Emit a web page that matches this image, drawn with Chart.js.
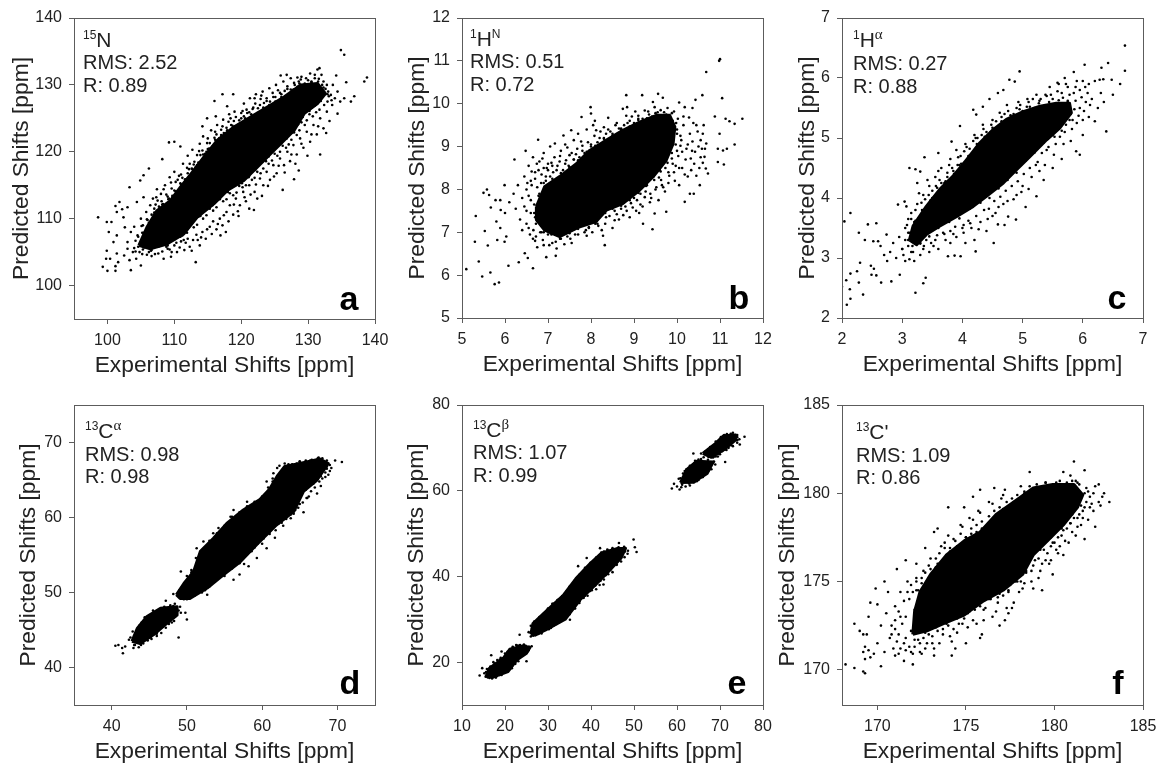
<!DOCTYPE html>
<html>
<head>
<meta charset="utf-8">
<script src="https://cdn.jsdelivr.net/npm/chart.js@4"></script>
<style>
  html, body { margin: 0; padding: 0; background: #fff; }
  #page { position: relative; width: 1157px; height: 763px; overflow: hidden; filter: blur(0.6px);
          font-family: "Liberation Sans", Arial, sans-serif; color: #222; }
  canvas { position: absolute; }
  .line { position: absolute; font-size: 20px; line-height: 20px; white-space: nowrap; }
  .nuc { font-size: 21px; }
  .nuc sup { font-size: 12px; line-height: 0; vertical-align: 8px; }
  .nuc sup.gr { font-family: "Liberation Serif", serif; font-size: 15px; }
  .letter { position: absolute; font-size: 34px; line-height: 34px; font-weight: bold; color: #000; transform: translateX(-50%); }
</style>
</head>
<body>
<div id="page"></div>
<script>
// axis ticks
const ticksA = [100, 110, 120, 130, 140];
const ticksB = [5, 6, 7, 8, 9, 10, 11, 12];
const ticksC = [2, 3, 4, 5, 6, 7];
const ticksD = [40, 50, 60, 70];
const ticksEx = [10, 20, 30, 40, 50, 60, 70, 80];
const ticksEy = [20, 40, 60, 80];
const ticksF = [170, 175, 180, 185];

// outline of the part of each cloud where the dots merge into solid black
const coreA = [[104.7,106],[105.9,108.7],[107.4,111.2],[109.4,112.7],[110.9,114.7],[112.9,117.2],[114.4,119.2],[116.4,121.7],[118.9,123.7],[121.4,125.2],[123.9,126.7],[126.4,128.2],[128.9,130],[131.4,130.2],[132.6,128.7],[131.4,127.2],[129.4,125.7],[127.9,123.2],[126.4,121.7],[124.4,119.7],[122.4,117.7],[120.4,115.7],[117.9,114.2],[115.9,112.2],[113.4,110.2],[111.4,107.7],[108.9,106.2],[106.4,105.5]];
const coreB = [[6.73,7.6],[6.92,8.06],[7.27,8.3],[7.66,8.6],[7.97,8.91],[8.36,9.15],[8.74,9.38],[9.13,9.57],[9.52,9.73],[9.83,9.73],[9.95,9.46],[9.91,9.07],[9.75,8.68],[9.44,8.29],[9.13,7.98],[8.74,7.67],[8.36,7.52],[8.12,7.25],[7.74,7.13],[7.27,6.9],[6.92,7.05],[6.73,7.29]];
const coreC = [[3.12,3.3],[3.18,3.53],[3.4,3.86],[3.62,4.14],[3.84,4.36],[4.07,4.64],[4.29,4.92],[4.51,5.14],[4.73,5.31],[5.01,5.44],[5.29,5.53],[5.56,5.58],[5.78,5.58],[5.81,5.42],[5.62,5.17],[5.4,4.97],[5.12,4.69],[4.9,4.47],[4.68,4.25],[4.4,4.03],[4.18,3.86],[3.9,3.69],[3.62,3.53],[3.4,3.39],[3.24,3.22]];
const coreD1 = [[42.7,43.5],[43.4,45.2],[44.7,46.8],[46.5,47.9],[48.7,48.1],[48.7,47],[47.1,45.7],[45.6,44.4],[43.8,43.2]];
const coreD2 = [[48.6,49.7],[49.6,51.2],[50.9,52.8],[51.8,55.5],[53.5,57.2],[55.3,59.2],[57.5,61],[59.7,62.4],[61,63.8],[62,65.5],[63,66.8],[65,67.2],[67.7,67.8],[68.8,67.2],[67.3,65],[65.5,63.5],[64.2,60.8],[61.9,59],[59.3,56.4],[57.1,54.1],[54.9,52.4],[52.7,50.6],[50.4,49.2],[49.1,49.2]];
const coreE1 = [[15.6,16.7],[16.4,18.6],[19.6,20.9],[21.1,23],[24.2,23.8],[25.8,23.4],[25,22.1],[22.7,20.5],[20.7,17.8],[17.2,16.5]];
const coreE2 = [[26,26.5],[26.5,29],[29.7,32],[33.5,35.5],[36.5,39.5],[39.8,43],[42.5,45.5],[46,46.5],[48,46.5],[47,44.3],[44.4,41.5],[41.3,38.3],[37.4,34.5],[34,30],[30,27.8],[27,26.3]];
const coreE3 = [[60.8,61.9],[62.3,65],[64.6,66.9],[68.4,66.7],[67,64],[63.8,62]];
const coreE4 = [[66,68.7],[68.9,71],[70.8,72.8],[73.6,73],[73.6,71.8],[70.8,69.5],[68,67.8]];
const coreF = [[172,172],[172.1,173.3],[172.4,174.4],[173,175.4],[173.9,176.5],[174.9,177.3],[175.8,177.8],[176.7,178.8],[177.7,179.5],[178.8,180.3],[179.9,180.5],[181.1,180.5],[181.6,179.9],[181.3,179.2],[180.5,178.2],[179.6,177.3],[178.8,176.5],[178.2,175.4],[177.1,174.5],[176,173.9],[174.9,173.1],[173.7,172.6],[172.8,172.2]];

// single dots read around the clouds
const dotsA = [[98.6,110.2],[99.9,109.5],[100.6,109.5],[100.2,108],[99.9,105.2],[99.8,104],[100.4,104],[99.3,102.8],[100,102.2],[101.2,102.2],[101.2,102.9],[101.6,103.5],[101.4,104.8],[103.5,102.3],[105,103],[113.2,103.5],[101.8,112.5],[101.2,111.9],[102.2,111.4],[101.4,111],[103,111.7],[102.4,110.2],[103.3,114.7],[101.4,107.5],[100.9,106.5],[102.6,108.7],[104.4,112.5],[105.4,113.2],[104.9,115.7],[106.2,117.5],[105.4,116.5],[109.2,121.4],[110,121.5],[110.9,120.8],[108.2,118.9],[114.2,123.8],[114.9,125],[116,127.6],[117.2,128.6],[118.8,128.6],[116.2,125.3],[117.9,126.8],[125.9,131.4],[126.8,131.5],[128.4,131.1],[131.7,132.5],[134.9,135.2],[135.4,134.5],[138.4,130.5],[138.8,131.1],[136.9,128.3],[136.4,127.5],[135.7,130.4],[134.2,131.4],[135.4,128],[134.4,125.7],[132.7,122.8],[131.8,119.6],[127.9,115.9],[128.6,117.2],[126.2,114.3],[121.9,111.3],[121.2,111.5],[119.5,111.1],[117.7,108],[116.9,107.5],
[103,106.5],[103.5,108],[104,108.8],[104.5,107.5],[105,110],[105.3,109],[105.8,111],[106,109.8],[106.4,112],[106.8,113],[107,111.5],[107.4,114.4],[107.5,112.7],[108,113.7],[108.3,112.2],[108.6,115],[109,113.3],[109.3,116.2],[109.6,114.5],[110,117],[110.2,115.5],[110.6,114],[111,116.6],[111.3,118.2],[111.7,115.2],[112,119.4],[112.2,117.4],[112.7,120.3],[113,118.5],[113.4,119.5],[113.8,121.2],[114,118],[114.3,122.3],[114.8,120],[115,122],[115.5,123.2],[116,121],[116.4,124],[117,122.5],[117.3,124.8],[117.7,121.6],[118.2,125.6],[118.6,123.4],[119,126],[119.5,124],[120,125],[120.4,127.2],[120.9,125.8],[121.3,128],[121.8,126.6],[122.2,128.6],[122.8,127],[123.2,129],[123.8,127.6],[124.2,129.5],[124.8,128.2],[125.2,130],[125.8,128.8],[126.3,130.5],[126.9,129.4],[127.4,131],[128,130],[128.6,130.5],[129,131.2],[129.7,131],[130.3,131.7],[131,131],[131.4,132.3],[132,131.5],[132.3,130.5],[132.8,130],[133,129],[133.4,128.5],[133.7,130],[134,128],[134.4,129],[134.8,127.5],
[102.5,104.5],[103,105.5],[103.3,103.8],[103.8,105],[104.3,104],[104.6,105.8],[105.2,104.7],[105.6,106],[106.2,105],[106.6,104.4],[107,105.8],[107.6,104.8],[108,106],[108.4,104],[109,105.5],[109.5,104.3],[110,106],[110.4,105],[111,106.6],[111.5,105.3],[112,107],[112.3,105.8],[112.8,106.8],[113.3,107.6],[113.8,106],[114.2,108],[114.7,107],[115.3,108.8],[115.8,109.6],[116.3,108.4],[116.8,110],[117.2,109],[117.8,111],[118.3,112],[118.8,110.6],[119.2,113],[119.8,112],[120.3,114],[120.7,112.6],[121.2,115],[122,114],[122.4,113],[122.8,116],[123.3,115],[123.8,117],[124.3,115.8],[124.8,118],[125.3,116.8],[125.8,119],[126.4,118],[126.9,120],[127.3,118.6],[127.8,121],[128.3,119.6],[128.8,122],[129.3,120.6],[129.8,123],[130.3,121.5],[130.8,124],[131.3,122.6],[131.8,125],[132.3,123.5],[132.8,126],[133.2,124.6],[133.6,127]];
const edgeA = [[104.2,106.7],[104.6,107.3],[104,105.6],[105.1,108.9],[105.4,107.9],[105.9,109.9],[106.3,109.2],[106.6,110.6],[107,110.2],[107.2,112.1],[107.7,111.8],[108.1,112.6],[108.5,111.9],[108.8,113.6],[109.1,112.9],[109.7,113.4],[110,114.2],[110.3,113.3],[110.5,115.8],[110.9,115.3],[111.2,116.1],[111.6,115.9],[112,116.8],[112.3,118.2],[112.6,117.5],[112.9,118.1],[113.2,117.7],[113.6,118.4],[113.9,119.5],[114.2,120.2],[114.6,119.7],[115,120.4],[115.3,121.3],[115.7,120.8],[116,122.1],[116.3,122.6],[116.7,122],[117,123.3],[117.4,122.8],[117.8,123.6],[118.1,124.5],[118.5,124],[118.9,124.6],[119.2,125.2],[119.7,124.7],[120,125.8],[120.4,125.3],[120.8,126.3],[121.2,125.9],[121.7,126.4],[122.1,127.2],[122.5,126.5],[122.9,127.9],[123.4,127.3],[123.8,128],[124.3,127.5],[124.7,128.8],[125.1,128.2],[125.5,129.2],[126,128.6],[126.5,129.1],[126.9,129.8],[127.4,129.3],[127.9,130.3],[128.4,129.7],[128.9,130.8],[129.5,130.2],[130,130.7],[130.5,130.4],[131,131.5],[131.6,130.9],[132.1,130],[132.6,129.4],[133.1,128.3],[133.5,127.7],[132.9,127.5],[132.4,127],
[131.7,126.3],[131.2,125.9],[130.7,125.3],[130.2,125.6],[129.8,124.7],[129.5,124],[129,124.4],[128.7,123.2],[128.3,122.5],[127.9,122.9],[127.5,121.8],[127.1,121.1],[126.7,120.6],[126.2,120.9],[125.8,120],[125.4,119.4],[125,119.7],[124.6,118.7],[124.1,118.2],[123.7,118.6],[123.3,117.5],[122.9,116.8],[122.4,117],[122,116.1],[121.6,115.8],[121.1,116.2],[120.7,115],[120.2,114.7],[119.7,114.9],[119.3,113.9],[118.8,113.5],[118.3,113.8],[117.8,112.9],[117.3,112.6],[116.8,112.9],[116.3,111.7],[115.8,111.2],[115.3,111.5],[114.8,110.5],[114.3,110],[113.9,110.4],[113.4,109.1],[112.9,108.7],[112.4,109.2],[111.9,107.9],[111.4,106.8],[110.9,107.3],[110.3,106.4],[109.8,106.9],[109.3,105.4],[108.8,105.8],[108.2,105.1],[107.7,105.9],[107.1,104.7],[106.5,105.2],[105.9,104.6],[105.3,105.4],[104.8,105],[104.2,105.1]];
const rimA = [[105.2,107.9],[106.2,109.4],[107,110.9],[108.2,112.1],[109.2,113],[110.2,114.1],[111,115.1],[111.8,115.9],[112.7,117.4],[113.4,118],[114.3,119.6],[115.2,120.5],[116.1,121.8],[117,122.1],[117.9,123.2],[118.7,123.9],[119.8,124.2],[120.6,125],[121.5,125.6],[122.4,125.8],[123.3,126.6],[124.2,127],[125.1,127.5],[126,128.2],[126.9,128.4],[127.8,129.3],[128.7,130.2],[129.6,130.1],[130.5,130.5],[131.5,130.5],[132.3,129.6],[132.9,128.6],[131.9,127.6],[131,126.9],[130.2,126.1],[129.2,125.2],[128.5,124.1],[127.6,122.9],[126.8,122],[126,121.3],[125,120.4],[124.1,119.3],[123.2,118.6],[122.1,117.3],[121.2,116.4],[120.1,115.3],[119.1,115],[118,114],[116.9,113.2],[115.7,112],[114.7,111.3],[113.6,110.3],[112.5,109.3],[111.2,107.5],[110,106.9],[109,106],[107.8,105.9],[106.6,105.3],[105.5,105.7]];
const moreA = [[106.7,109.8],[107.3,113.2],[107.9,110.9],[108.4,114.4],[108.9,111.6],[109.5,115.4],[109.9,112.8],[110.7,116.4],[111.4,114.3],[111.9,117.6],[112.4,115.4],[113.1,116.4],[113.7,120.1],[114.1,117.3],[114.9,121.3],[115.4,119.2],[116.1,123],[116.6,120.2],[117.2,123.8],[118,122.7],[118.4,125],[119.3,123],[120.2,126.1],[121,124.7],[122,128],[123,128.4],[124,126.6],[107.4,106.6],[108.6,107],[109.6,105],[110.8,105.7],[111.7,106.4],[112.6,105.2],[113.5,106.8],[114,107.2],[114.9,108.4],[115.6,107.7],[116.5,109.2],[117.4,110.5],[118.1,109.6],[118.9,112.1],[119.6,110.4],[120.5,113.2],[121.4,113.6],[122.2,115.1],[123.1,113.4],[124,114.9],[124.9,116.3],[125.6,117.9],[126.5,116.9],[127.5,119.6],[128.1,118.2],[129,121.2],[129.9,119.4],[130.5,122.6],[131.5,123.8]];

const dotsB = [[5.1,6.14],[5.39,6.32],[5.47,5.97],[5.66,6.06],[5.76,5.79],[5.86,5.83],[5.3,6.78],[5.32,7.38],[5.53,7.03],[5.6,6.69],[5.5,7.92],[5.58,8],[5.63,7.87],[5.67,7.58],[5.78,7.75],[5.89,7.75],[5.99,8.1],[5.9,7.52],[6,7.45],[5.8,7.25],[5.89,7.1],[5.82,6.82],[5.99,6.78],[6.03,6.9],[6.08,6.22],[6.32,6.3],[6.65,6.16],[6.46,6.51],[6.53,6.4],[6.96,6.42],[7.18,6.45],[6.22,8.7],[6.48,8.9],[6.77,9.16],[7.16,9.07],[7.36,9.26],[7.54,9.38],[7.78,9.69],[7.99,9.92],[8,9.77],[8.09,9.6],[8.4,9.67],[8.82,10.2],[9.19,10.2],[8.84,9.92],[8.74,9.88],[9.25,9.84],[9.44,10.04],[9.56,10.23],[9.67,10.14],[10.68,10.74],[10.98,11],[11,11.04],[11.05,10.13],[10.59,10.2],[10.05,10.03],[10.18,9.92],[10.43,10.09],[10.36,9.9],[10.88,9.7],[11.13,9.65],[11.22,9.59],[11.34,9.53],[11.52,9.65],[10.99,9.3],[11.34,9.05],[10.95,8.95],[11.16,8.95],[11.07,8.91],[10.95,8.64],[11.09,8.58],[10.68,9.07],[10.64,8.76],[10.72,8.37],[10.67,8.49],[10.53,8.1],[10.39,7.9],[10.3,7.9],[10.18,7.71],[9.75,7.48],[9.48,7.44],[9.21,7.2],[9.43,7.07],[8.32,6.7],
[6.1,7.7],[6.2,7.9],[6.25,7.55],[6.3,8.1],[6.35,7.3],[6.4,7.8],[6.45,8.3],[6.5,8],[6.5,7.5],[6.55,8.55],[6.55,7.1],[6.6,7.75],[6.6,8.2],[6.65,6.85],[6.65,8.75],[6.7,7.35],[6.7,8.4],[6.75,6.65],[6.75,8.05],[6.8,8.65],[6.85,7],[6.85,8.35],[6.9,8.85],[6.9,6.7],[6.95,8.2],[7,8.6],[7,6.95],[7.05,9],[7.05,8.3],[7.1,6.75],[7.15,8.75],[7.2,8.45],[7.3,8.9],[7.3,6.85],[7.4,8.6],[7.4,9.05],[7.45,6.9],[7.5,8.8],[7.55,6.75],[7.6,9.15],[7.6,8.7],[7.7,9.3],[7.7,6.95],[7.8,8.9],[7.85,7],[7.9,9.4],[7.95,7.1],[8,9.05],[8.05,9.5],[8.1,7.2],[8.2,9.2],[8.25,7.05],[8.3,9.45],[8.35,7.35],[8.45,9.35],[8.5,7.1],[8.55,7.5],[8.6,9.55],[8.65,7.3],[8.7,9.4],[8.8,7.6],[8.85,9.55],[8.9,7.35],[8.95,9.7],[9,7.8],[9.05,7.5],[9.1,9.65],[9.15,7.9],[9.2,7.6],[9.3,8.1],[9.35,9.75],[9.4,7.8],[9.45,8.3],[9.5,8],[9.55,9.8],[9.6,8.45],[9.65,8.1],[9.7,8.7],[9.75,9.75],[9.8,8.4],[9.85,9],[9.9,8.6],[9.9,9.6],[9.95,8.2],[10,8.9],[10,9.4],[10.05,8.5],[10.1,9.15],[10.15,9.7],[10.2,8.7],[10.25,8.3],[10.3,9.3],[10.35,8.9],[10.4,8.6],[10.45,9.5],[10.5,9],[10.55,8.75],[10.6,9.3],[10.65,8.95]];
const edgeB = [[6.5,7.2],[6.55,7.85],[6.6,7.45],[6.62,8.1],[6.66,7.05],[6.68,7.65],[6.7,8.25],[6.72,6.9],[6.78,8.45],[6.8,7.9],[6.84,8.15],[6.88,6.82],[6.9,8.5],[6.95,8.3],[7,8.45],[7.03,6.7],[7.08,8.62],[7.12,8.4],[7.18,6.78],[7.22,8.55],[7.28,8.78],[7.35,8.45],[7.38,6.72],[7.42,8.68],[7.48,8.55],[7.55,8.85],[7.6,8.7],[7.63,6.95],[7.68,8.95],[7.73,8.75],[7.8,9.02],[7.85,8.85],[7.88,7.05],[7.93,9.1],[8,9],[8.03,7],[8.08,9.25],[8.15,9.1],[8.17,7.15],[8.22,9.35],[8.3,9.2],[8.33,7.2],[8.4,9.4],[8.43,7.38],[8.5,9.3],[8.57,9.5],[8.6,7.42],[8.65,9.42],[8.7,7.55],[8.77,9.5],[8.83,7.5],[8.9,9.6],[8.93,7.68],[9,9.55],[9.07,7.75],[9.1,9.72],[9.15,7.65],[9.2,9.65],[9.27,7.95],[9.33,9.82],[9.38,7.9],[9.42,9.7],[9.52,8.05],[9.58,8.28],[9.62,9.85],[9.68,8.05],[9.73,8.5],[9.78,9.9],[9.82,8.32],[9.88,8.72],[9.93,9.82],[9.97,8.55],[10.02,9.65],[10.03,8.78],[10.08,9.25],[10.08,9.02],[10.12,8.5],[10.15,9.5],[10.22,8.95],[10.28,9.68],[10.32,8.72],[10.36,9.12],[10.42,8.88],[10.48,9.35],[10.52,8.5],[10.58,8.95],[10.62,9.5]];
const rimB = [[6.68,7.45],[6.78,7.85],[6.9,8.15],[7.1,8.25],[7.3,8.38],[7.5,8.52],[7.7,8.68],[7.9,8.88],[8.1,9.02],[8.3,9.18],[8.5,9.26],[8.7,9.42],[8.9,9.47],[9.1,9.62],[9.3,9.66],[9.5,9.78],[9.7,9.8],[9.88,9.78],[9.98,9.55],[10,9.3],[9.97,9.05],[9.88,8.85],[9.78,8.62],[9.62,8.42],[9.47,8.22],[9.28,8.08],[9.1,7.92],[8.9,7.75],[8.7,7.62],[8.5,7.55],[8.33,7.45],[8.15,7.2],[7.95,7.12],[7.7,7.08],[7.5,6.98],[7.28,6.85],[7.08,6.95],[6.9,7],[6.72,7.2]];
const moreB = [[6.4,7.05],[6.45,7.6],[6.52,8.15],[6.58,6.95],[6.62,8.42],[6.7,6.8],[6.74,8.6],[6.82,7],[6.87,8.72],[6.97,8.5],[7.1,8.55],[7.2,6.62],[7.27,8.65],[7.45,8.98],[7.52,6.85],[7.65,8.82],[7.77,9.12],[7.9,6.92],[8.12,9.38],[8.28,6.92],[8.35,9.3],[8.55,7.28],[8.62,9.3],[8.75,7.4],[8.82,9.72],[8.97,7.58],[9.03,9.82],[9.12,7.45],[9.25,7.82],[9.37,7.7],[9.48,9.92],[9.57,7.75],[9.63,8.22],[9.72,7.95],[9.8,8.15],[9.93,8.4],[10.05,8.1],[10.12,8.88],[10.18,8.35],[10.25,9.05],[10.33,8.45],[10.38,9.55],[10.45,8.32],[10.55,9.15],[10.6,8.62]];

const dotsC = [[6.7,6.54],[6.7,6.12],[6.62,5.9],[6.42,6.25],[6.31,6.17],[6.03,6.22],[6.48,5.97],[6.28,5.97],[6.34,5.98],[6.39,5.11],[6.2,5.28],[5.95,4.72],[5.89,4.78],[4.95,6.11],[4.78,5.97],[4.87,5.94],[4.45,5.65],[4.68,5.8],[4.59,5.75],[4.18,5.47],[4.34,5.52],[4.23,5.39],[3.96,5.2],[3.82,4.94],[3.37,4.68],[3.12,4.5],[3.22,4.48],[3.3,4.44],[3.6,4.75],[3.25,4.25],[3.04,3.94],[2.93,3.89],[3.07,3.86],[2.14,3.75],[2.04,3.61],[2.28,3.42],[2.43,3.56],[2.57,3.58],[2.38,3.3],[2.52,3.28],[2.6,3.28],[2.64,3.2],[2.74,3.39],[2,2.52],[2.07,2.63],[2.13,2.48],[2.08,2.22],[2.14,2.32],[2.14,2.74],[2.25,2.78],[2.28,2.59],[2.35,2.39],[2.3,2.92],[2.48,2.87],[2.49,2.72],[2.57,2.71],[2.53,2.82],[2.65,2.59],[2.82,2.61],[2.96,2.72],[3.22,2.42],[3.35,2.58],[3.39,2.67],[3.76,3.03],[3.87,3.04],[3.97,3.03],[4.22,3.11],[4.52,3.25],[4.76,3.69],[4.89,3.64],[4.59,3.56],[5.23,4.03],
[2.7,3.05],[2.75,2.95],[2.8,3.1],[2.85,3.25],[2.9,3],[2.95,3.35],[3,3.15],[3.05,3.5],[3.05,2.95],[3.1,3.3],[3.1,3.65],[3.15,3.1],[3.15,3.75],[3.2,3.45],[3.2,2.95],[3.25,3.9],[3.3,3.25],[3.3,3.05],[3.35,4.05],[3.4,3.3],[3.4,3.85],[3.45,4.2],[3.45,3.1],[3.5,4],[3.55,4.35],[3.55,3.3],[3.6,3.15],[3.65,4.25],[3.65,4.5],[3.7,3.4],[3.75,4.35],[3.8,4.65],[3.8,3.25],[3.85,4.45],[3.9,3.35],[3.9,4.8],[3.95,4.55],[4,3.5],[4.05,4.9],[4.05,3.25],[4.1,4.7],[4.15,3.5],[4.2,5.05],[4.2,3.3],[4.3,4.9],[4.3,3.6],[4.35,5.15],[4.4,3.45],[4.45,5],[4.5,3.7],[4.5,5.3],[4.6,3.85],[4.6,5.2],[4.7,3.55],[4.7,5.4],[4.75,3.95],[4.8,5.3],[4.9,4.05],[4.9,5.5],[5,4.2],[5,5.45],[5.05,3.85],[5.1,5.6],[5.15,4.35],[5.2,5.5],[5.25,4.6],[5.3,5.65],[5.35,4.3],[5.4,4.8],[5.4,5.7],[5.5,4.5],[5.5,5.65],[5.55,4.9],[5.6,5.9],[5.65,4.65],[5.65,5.75],[5.7,5.1],[5.7,6],[5.75,5.6],[5.75,5.85],[5.8,4.95],[5.8,5.4],[5.85,6.1],[5.85,5.75],[5.9,5.25],[5.9,5.95],[5.95,5.5],[5.95,5.8],[6,5.05],[6,5.95],[6.05,5.6],[6.1,5.35],[6.1,5.9],[6.15,5.65],[6.2,5.95],[6.25,5.5],[6.3,5.75],[6.35,5.6],[6.5,5.72]];
const edgeC = [[3,3.15],[3.05,3.3],[3.08,3.55],[3.1,3.2],[3.12,3.42],[3.15,3.65],[3.18,3.1],[3.22,3.8],[3.27,3.66],[3.32,3.92],[3.36,3.2],[3.38,3.98],[3.44,4.05],[3.48,3.25],[3.5,4.12],[3.56,4.2],[3.58,3.38],[3.62,4.3],[3.68,3.42],[3.7,4.25],[3.75,4.42],[3.8,3.45],[3.83,4.5],[3.88,3.52],[3.92,4.55],[3.97,4.7],[4.02,3.55],[4.03,4.78],[4.1,3.62],[4.12,4.82],[4.18,4.95],[4.23,3.7],[4.25,5],[4.32,5.05],[4.36,3.8],[4.4,5.1],[4.44,3.82],[4.48,5.22],[4.53,3.95],[4.56,5.28],[4.63,4.02],[4.65,5.35],[4.72,4.12],[4.76,5.45],[4.82,4.2],[4.85,5.4],[4.92,4.28],[4.96,5.55],[5.02,4.4],[5.07,5.52],[5.12,4.5],[5.17,5.65],[5.22,4.55],[5.28,5.62],[5.32,4.75],[5.38,5.72],[5.43,4.85],[5.47,5.72],[5.53,5.02],[5.58,5.78],[5.62,5.02],[5.67,5.67],[5.72,5.22],[5.78,5.72],[5.83,5.3],[5.88,5.62],[5.93,5.37],[5.98,5.68],[6.02,5.45],[6.08,5.75],[6.12,5.55]];
const rimC = [[3.1,3.42],[3.22,3.62],[3.33,3.8],[3.47,3.96],[3.58,4.17],[3.72,4.28],[3.86,4.4],[3.98,4.57],[4.11,4.7],[4.24,4.9],[4.37,5.02],[4.5,5.17],[4.65,5.28],[4.8,5.38],[4.95,5.48],[5.12,5.52],[5.27,5.58],[5.44,5.6],[5.6,5.63],[5.75,5.62],[5.86,5.48],[5.78,5.3],[5.65,5.12],[5.5,5.05],[5.35,4.92],[5.2,4.76],[5.05,4.62],[4.9,4.42],[4.75,4.3],[4.6,4.16],[4.45,4],[4.3,3.92],[4.12,3.82],[3.95,3.66],[3.78,3.6],[3.6,3.5],[3.45,3.36],[3.3,3.24],[3.17,3.2]];
const moreC = [[3.02,3.05],[3.12,2.98],[3.2,3.6],[3.28,4.08],[3.35,3.15],[3.42,4.3],[3.52,3.2],[3.6,4.45],[3.72,3.3],[3.78,4.55],[3.85,3.4],[3.93,4.68],[4.02,3.42],[4.07,4.85],[4.13,3.58],[4.22,5],[4.27,3.48],[4.34,5.22],[4.42,3.65],[4.47,5.1],[4.55,3.75],[4.62,5.42],[4.68,3.9],[4.74,5.55],[4.85,3.98],[4.93,5.6],[4.98,4.1],[5.08,5.65],[5.1,4.15],[5.23,5.72],[5.28,4.45],[5.37,4.55],[5.45,5.85],[5.52,4.72],[5.58,5.92],[5.68,4.9],[5.72,5.9],[5.82,5.15],[5.88,5.85],[6,5.3],[6.04,5.85]];

const dotsD = [[40.5,42.9],[40.9,43],[41.5,41.9],[41.4,42.6],[41.8,42.8],[42.3,43.7],[42.9,42.6],[48.9,44],[50,46.4],[49.8,47.3],[49.2,47.3],[47.2,48.9],[49.1,48.1],[49.2,52.8],[48.2,49.8],[52.7,49.7],[56.2,51.7],[57,52.4],[58.2,53.5],[59.3,54.6],[60.6,55.9],[61.7,57.3],[65.5,60.7],[70.6,67.4],[69.7,67.6],[68.8,65.7],[67.3,63.2],[65.9,62.6],[52.2,56.8],[53.5,57.9],[54.2,58.6],[51.3,55.9],[55.8,60.1],[56.2,61],[58,62.1],[60.6,64.8],[61.5,65.9],[62.3,66.9],[63.5,67.1],[64.6,67.2],
[43,43],[43.6,42.7],[43.2,44.6],[43.8,45.3],[44.2,43.2],[44.5,46],[44.8,43.6],[45,46.6],[45.3,43.8],[45.6,47.4],[46,44.5],[46.2,47.6],[46.6,44.6],[47,47.8],[47.2,45.3],[47.6,45.8],[48,47.9],[48.3,46.2],[48.6,47.4],[49,49.5],[49.6,49.1],[50.2,52],[50.5,49.4],[50.8,52.8],[51,49.6],[51.5,50.1],[51.5,54.2],[52,50],[52,55],[52.5,50.5],[52.8,55.6],[53.2,51],[53.5,56.4],[54,51.8],[54.2,57],[54.8,52.3],[55,57.6],[55.5,53],[55.6,58.8],[56.2,53.5],[56.6,59.8],[57,54.4],[57.3,60.3],[57.8,54.9],[58,61],[58.6,55.5],[58.8,61],[59.4,56.5],[59.6,61.5],[60.2,57.2],[60.4,62.3],[61,57.8],[61.2,62.8],[61.8,58.3],[62,63.4],[62.6,59.3],[62.5,64.3],[63.2,59.8],[63,65.5],[63.8,60.4],[63.5,66],[64.2,60.5],[64,66.5],[64.8,61.3],[65,67.5],[65.4,62],[65.8,67.6],[66,62.6],[66.6,67.7],[66.5,63.5],[67,64],[67.4,67.9],[67.6,64.8],[68,65.2],[68,67.9],[68.4,66],[68.6,66.8],[69,66.2],[69,67]];
const edgeD = [[42.5,44],[42.8,44.8],[43.1,43],[44,46],[44.3,43.6],[45.2,47],[46,44.2],[47.8,48.3],[48,46],[48.4,48.5],[49.4,50.8],[50,52.2],[50.6,53],[51.2,54.6],[52.4,50.3],[53,56],[54,52],[54.6,57.8],[56,53.2],[56.8,60.2],[57.6,53.8],[59,61.9],[60,56.5],[60.8,63],[61.4,64.8],[62.8,58.9],[63.8,59.9],[65,61.8],[66.2,62.8],[67.8,64.2],[68.4,65.4],[69.2,66.6]];
const rimD = [[43,44.2],[43.7,45.6],[44.4,46.7],[45.5,47.6],[47,48.1],[48.2,48.2],[48.9,47.6],[48,46.5],[46.7,45.4],[45.2,44],[43.9,43],[49,50.3],[49.8,51.3],[50.6,52.7],[51.4,54.2],[52.2,55.8],[53,56.9],[54,57.9],[55,58.9],[56,60.1],[57,60.7],[58,61.5],[59,62.1],[60,62.8],[60.8,64],[61.4,65.2],[62,66.6],[63,67.2],[64,67.1],[65,67.4],[66.4,67.6],[67.5,68],[68.6,67.6],[68.6,66.5],[67.8,65.5],[66.8,64.5],[65.8,63.7],[65,62.5],[64.4,61],[63.2,60],[62.2,59.2],[61,58.1],[60,57.3],[59,56],[58,55.1],[57,53.9],[56,53.3],[55,52.2],[54,51.8],[53,50.8],[52,50.2],[51,49.6],[50,49.1]];

const dotsE = [[14.1,16.9],[14.7,18.6],[16.8,21.6],[19.2,22.5],[25,20.2],[23.1,20.2],[26.2,23.7],[23.4,26.4],[49.9,48.6],[50.6,45.7],[50.2,46.8],[46.5,47.8],[42.1,46.6],[39,44.3],[37,42.4],[42.9,38.1],[36.7,33.8],[35.1,29.9],[58.8,60.5],[59.3,61.6],[60.6,60.3],[75.7,72.6],[74.6,70.8],[71.2,66.7],[68.9,66.1],[65.6,68.7],[63.8,68.7],
[15.2,17.4],[15.5,16.6],[15.8,18.4],[16,16.4],[16.6,19],[17,16.2],[17.3,20],[17.8,16.5],[18.2,20.5],[18.8,17],[19,21],[19.8,17.8],[20,22],[20.5,18],[21,22.8],[21.6,18.6],[21.8,23.6],[22.4,19.6],[22.6,24],[23,20.8],[23.5,24],[24,21.5],[24.4,21.8],[24.8,23.8],[25.3,23.4],[25.5,22.8],[25.5,27],[26,26],[26,28.5],[26.5,26.2],[26.8,29.5],[27.5,26.8],[28,30.5],[28.5,26.7],[29,31.3],[29.5,27.5],[30,32.5],[30.7,28],[31,33.6],[32,28.9],[32.2,34.5],[33,30],[33.3,35.4],[34,31],[34.3,36.5],[35,31.7],[35.3,37.8],[36.3,32.5],[36.3,39],[37.3,33.8],[37.3,40],[38.3,35],[38.2,41],[39.2,35.5],[39.3,41.8],[40.2,36.8],[40.3,43],[41.2,37],[41.2,44],[42,38],[42,45],[43,39.3],[43,45.8],[44,40.5],[44,46],[45,41],[45,46.4],[46,42.7],[46.2,46],[47,43.5],[47,46.5],[47.8,44.5],[48,46.6],[48.5,45.3],[48.6,46],
[60,61],[60.4,62.8],[61,60.8],[61.4,64],[62,61],[62.2,65],[63,61.2],[63.2,65.6],[64,62],[64,66.4],[65,62.5],[65,67.3],[66,63.2],[66.2,67.8],[67,64.5],[67.3,67.9],[68,65],[68.4,67.8],[68.6,66.8],[69,68],[69.5,68],[70,68.5],[70.5,69.2],[71,73],[71.5,69.5],[72,70],[72.5,73.3],[73,70.4],[73.5,73],[74,71.2],[74,72.5],[74.5,72]];
const rimE = [[26.3,27.8],[27.5,29.8],[28.7,31],[30,32.4],[31.2,33.6],[32.5,34.6],[33.8,35.9],[35,37.6],[36.2,39],[37.4,40.5],[38.6,42],[39.9,43.2],[41.2,44.4],[42.4,45.6],[43.8,46.3],[45,46.6],[46.4,46.8],[47.7,46.9],[47.9,45.8],[47,44.6],[45.8,43.2],[44.6,41.6],[43.4,40.3],[42.2,39],[41,37.9],[39.8,36.6],[38.6,35.5],[37.4,34.3],[36.2,32.6],[35,31.2],[33.8,30],[32.6,29.3],[31.4,28.6],[30.2,27.7],[29,27.3],[27.8,26.6],[26.6,26.2],[15.6,17.7],[16.6,18.8],[17.6,19.7],[18.8,20.6],[19.8,21.2],[20.6,22.4],[21.8,23.4],[23,23.9],[24.4,24.1],[25.6,23.6],[25.2,22.4],[24,21.5],[22.6,20.3],[21.6,19],[20.6,17.8],[19.2,17],[17.9,16.4],[16.4,16.3],[60.8,62.9],[61.8,64.6],[63,65.8],[64.2,67],[65.6,67.4],[67.2,67.2],[68.4,66.5],[67.4,64.8],[66,63.2],[64.6,62.2],[62.8,61.7],[61.2,61.4],[66.5,69.1],[67.7,70.2],[69,71.5],[70.2,72.5],[71.6,73.2],[73,73.5],[74,73],[74,71.8],[72.6,70.6],[71.2,69.6],[69.8,68.6],[68.4,67.8]];

const dotsF = [[168.2,170.3],[168.7,170.1],[169.2,169.9],[169.3,169.8],[168.7,172.6],[169,172.2],[169.2,172],[169.4,172],[169.3,171.3],[169.2,171],[169.5,171.1],[169.3,170.6],[169.6,170.7],[169.8,170.9],[170.2,170.2],[170,173.7],[169.6,173.8],[169.5,173],[169.9,174.6],[170.4,175],[171.1,175.7],[171.6,176.2],[170.6,174.4],[172.2,176],[172.7,176.9],[173.2,177.8],[173.4,178],[174,179.2],[174.9,179.2],[175.4,179.8],[175.8,180.2],[176.6,180.3],[177.2,180.2],[178.1,180.4],[178.6,181.2],[180.5,181.2],[181.1,181.8],[181.7,181.3],[180.9,181],[182.5,180.5],[182.8,180],[183.1,179.5],[182.6,179.3],[182.3,178.1],[181.7,177.4],[180.5,176.5],[179.9,175.4],[179.3,174.5],[178.8,174.6],[177.4,173.2],[176.9,172.5],[175.8,171.8],[174.4,171.2],[174.2,170.8],[173.2,170.8],[172,170.3],[171.5,170.5],
[170,171.5],[170.2,172.5],[170.4,171],[170.5,173.2],[170.7,171.8],[170.8,172.5],[171,170.8],[171,173.6],[171.2,172],[171.3,174.4],[171.5,171.5],[171.6,173],[171.7,175],[171.9,171],[172,174.4],[172.2,175.2],[172.3,171.7],[172.5,170.9],[172.6,175.6],[172.8,171.5],[172.9,174.8],[173,176.3],[173.2,171.2],[173.4,176],[173.6,177],[173.7,172],[173.9,176.5],[174,177.6],[174.2,171.6],[174.3,172.3],[174.5,177],[174.7,178.2],[174.8,172.6],[175,171.5],[175,177.5],[175.2,178.6],[175.4,172.8],[175.6,177.8],[175.7,179],[175.9,172],[176,173.4],[176.2,178],[176.3,179.5],[176.5,173],[176.7,178.6],[176.8,173.8],[177,179.7],[177.2,172.8],[177.4,174.4],[177.5,179],[177.7,173.8],[177.9,175],[178,179.7],[178.2,174.6],[178.4,175.6],[178.5,180],[178.7,175],[178.9,176.2],[179,180.3],[179.2,175.6],[179.4,176.8],[179.6,180.4],[179.7,176],[179.9,177.2],[180.1,180.5],[180.2,176.6],[180.4,177.6],[180.6,180.5],[180.8,177.2],[180.9,178.3],[181,180.7],[181.2,177.6],[181.3,178.6],[181.4,180.5],[181.5,178.2],[181.7,179.2],[181.8,180.3],[181.9,178.5],[182,179.8],[182.2,179],[182.3,180.4],[182.5,179.5],[182.7,179.8]];
const edgeF = [[170.8,172],[171,172.8],[171.1,171.6],[171.2,173.3],[171.3,171.2],[171.4,172.6],[171.5,173.9],[171.6,171.1],[171.7,174.4],[171.8,171.3],[171.9,174.8],[172.1,171.3],[172.2,175],[172.4,171.5],[172.5,174.9],[172.6,171.8],[172.7,175.5],[172.9,172],[173,175.7],[173.1,171.9],[173.3,176.3],[173.4,172.2],[173.5,176.6],[173.7,172.3],[173.8,176.9],[174,172.5],[174.1,176.9],[174.3,172.9],[174.4,177.3],[174.6,172.6],[174.7,177.7],[174.9,172.9],[175,177.5],[175.2,173.3],[175.3,178],[175.5,173.4],[175.6,178.2],[175.8,173.6],[175.9,178.4],[176.1,173.5],[176.3,178.7],[176.4,174],[176.6,179],[176.8,174.1],[176.9,179.2],[177.1,174.2],[177.3,179.5],[177.4,174.5],[177.6,179.7],[177.8,175],[177.9,179.9],[178.1,175],[178.3,180.1],[178.4,175.5],[178.6,180.4],[178.8,175.9],[179,180.5],[179.1,176.3],[179.3,176],[179.5,180.6],[179.6,176.6],[179.8,177],[180,177.2],[180.2,177.5],[180.3,180.7],[180.5,177.9],[180.7,178],[180.9,178.3],[181.1,178.6],[181.2,180.7],[181.4,178.8],[181.6,179],[181.8,179.5],[181.9,180.1],[182.1,179.4]];
const rimF = [[171.9,172.2],[172.1,173.4],[172.3,174.5],[172.9,175.2],[173.5,176],[174.1,176.7],[174.7,177.1],[175.3,177.7],[175.9,178],[176.5,178.5],[177.1,179.1],[177.7,179.5],[178.3,180],[178.9,180.3],[179.5,180.6],[180.1,180.6],[180.7,180.6],[181.3,180.6],[181.7,180],[181.5,179.3],[181,178.8],[180.4,178],[179.8,177.5],[179.2,176.8],[178.6,176.2],[178.1,175.5],[177.5,174.8],[176.9,174.3],[176.3,174],[175.7,173.8],[175.1,173.2],[174.5,172.9],[173.9,172.6],[173.3,172.4],[172.7,172.1],[172.1,171.7]];
const moreF = [[170.9,171.2],[171,172.3],[171.2,170.9],[171.3,173],[171.6,171.8],[171.8,174],[172,170.9],[172.2,174.5],[172.4,171],[172.5,175.2],[172.7,171.2],[172.9,175.9],[173.1,171.5],[173.3,175.8],[173.5,171.5],[173.8,177.2],[174.1,171.9],[174.3,177.4],[174.5,172.1],[174.8,178.1],[175.1,172.4],[175.4,178.5],[175.6,172.6],[175.8,178.9],[176,172.8],[176.5,179.4],[176.7,173.3],[177.1,179.9],[177.3,173.5],[177.6,173.5],[178,174.4],[178.3,174.9],[178.7,175.6],[179.1,175.2],[179.5,176.2],[179.8,176.2],[180.1,176.8],[180.3,177],[180.6,177.3],[181,177.8],[181.3,178.1],[181.6,178.6],[182,179.2],[182.2,180]];

const rmsLabels = ['RMS: 2.52', 'RMS: 0.51', 'RMS: 0.27', 'RMS: 0.98', 'RMS: 1.07', 'RMS: 1.09'];
const rLabels = ['R: 0.89', 'R: 0.72', 'R: 0.88', 'R: 0.98', 'R: 0.99', 'R: 0.86'];
const nucLabels = ['<sup>15</sup>N', '<sup>1</sup>H<sup>N</sup>', '<sup>1</sup>H<sup class="gr">α</sup>',
                   '<sup>13</sup>C<sup class="gr">α</sup>', '<sup>13</sup>C<sup class="gr">β</sup>', "<sup>13</sup>C'"];
const panelLetters = ['a', 'b', 'c', 'd', 'e', 'f'];

const panels = [
  { core: [coreA], dots: dotsA.concat(edgeA, rimA, moreA), min: 95, max: 140, xt: ticksA, yt: ticksA, px: 74, py: 18, pb: 319, title: 21, text: 83, bases: [48, 69, 92], lx: 349, ly: 309 },
  { core: [coreB], dots: dotsB.concat(edgeB, rimB, moreB), min: 5, max: 12, xt: ticksB, yt: ticksB, px: 462, py: 18, pb: 318, title: 417, text: 470, bases: [47, 68, 91], lx: 739, ly: 308 },
  { core: [coreC], dots: dotsC.concat(edgeC, rimC, moreC), min: 2, max: 7, xt: ticksC, yt: ticksC, px: 842, py: 18, pb: 318, title: 807, text: 853, bases: [48, 70, 93], lx: 1117, ly: 308 },
  { core: [coreD1, coreD2], dots: dotsD.concat(edgeD, rimD), min: 35, max: 75, xt: ticksD, yt: ticksD, px: 74, py: 405, pb: 705, title: 28, text: 85, bases: [439, 461, 483], lx: 350, ly: 693 },
  { core: [coreE1, coreE2, coreE3, coreE4], dots: dotsE.concat(rimE), min: 10, max: 80, xt: ticksEx, yt: ticksEy, px: 462, py: 405, pb: 705, title: 416, text: 473, bases: [438, 459, 482], lx: 737, ly: 693 },
  { core: [coreF], dots: dotsF.concat(edgeF, rimF, moreF), min: 168, max: 185, xt: ticksF, yt: ticksF, px: 842, py: 405, pb: 705, title: 787, text: 856, bases: [440, 462, 484], lx: 1118, ly: 693 },
];

const page = document.getElementById('page');
const plotW = 301;
const titleFont = { family: '"Liberation Sans", Arial, sans-serif', size: 22.8, lineHeight: 1 };
const tickFont = { family: '"Liberation Sans", Arial, sans-serif', size: 16 };
const inkColor = '#222';
const frameColor = '#5c5c5c';

// box around the plot, the axes only give left and bottom
const framePlugin = {
  id: 'frame',
  afterDraw(chart) {
    const a = chart.chartArea;
    const ctx = chart.ctx;
    ctx.save();
    ctx.strokeStyle = frameColor;
    ctx.lineWidth = 1;
    ctx.strokeRect(a.left + 0.5, a.top + 0.5, a.right - a.left, a.bottom - a.top);
    ctx.restore();
  }
};

function addLine(html, cls, left, top) {
  const d = document.createElement('div');
  d.className = cls;
  d.innerHTML = html;
  d.style.left = left + 'px';
  d.style.top = top + 'px';
  page.appendChild(d);
}

panels.forEach((p, i) => {
  const canvas = document.createElement('canvas');
  // 17 and 22 are above what the tick labels ask for, so the plot box lands exactly
  const topPad = 17;
  const rightPad = 22;
  const left = p.title - 11;
  const top = p.py - topPad;
  const bottom = p.pb + 58;
  canvas.width = p.px - left + plotW + rightPad;
  canvas.height = bottom - top;
  canvas.style.left = left + 'px';
  canvas.style.top = top + 'px';
  page.appendChild(canvas);

  const axis = (label, ticks) => ({
    type: 'linear',
    min: p.min,
    max: p.max,
    afterBuildTicks: (s) => { s.ticks = ticks.map((v) => ({ value: v })); },
    grid: { drawOnChartArea: false, drawTicks: true, tickLength: 5, color: frameColor },
    border: { color: frameColor },
    ticks: { font: tickFont, color: inkColor, padding: 7, maxRotation: 0, autoSkip: false },
    title: { display: true, text: label, font: titleFont, color: inkColor, padding: 0 },
  });
  const xAxis = axis('Experimental Shifts [ppm]', p.xt);
  xAxis.afterFit = (s) => { s.height = bottom - p.pb; };
  const yAxis = axis('Predicted Shifts [ppm]', p.yt);
  yAxis.afterFit = (s) => { s.width = p.px - left; };

  // the solid part is a closed shape, the rest are single dots
  const shapes = p.core.map((outline) => ({
    data: outline.concat([outline[0]]),
    showLine: true,
    fill: 'shape',
    backgroundColor: '#000',
    borderColor: '#000',
    borderWidth: 3,
    borderJoinStyle: 'round',
    pointRadius: 0,
  }));

  new Chart(canvas.getContext('2d'), {
    type: 'scatter',
    data: {
      datasets: shapes.concat([
        { data: p.dots, pointRadius: 1.3, pointBackgroundColor: '#000', pointBorderWidth: 0 },
      ]),
    },
    options: {
      responsive: false,
      animation: false,
      layout: { padding: { top: topPad, right: rightPad, left: 0, bottom: 0 } },
      plugins: { legend: { display: false }, tooltip: { enabled: false } },
      scales: { x: xAxis, y: yAxis },
    },
    plugins: [framePlugin],
  });

  addLine(nucLabels[i], 'line nuc', p.text, p.bases[0] - 18);
  addLine(rmsLabels[i], 'line', p.text, p.bases[1] - 17);
  addLine(rLabels[i], 'line', p.text, p.bases[2] - 17);
  addLine(panelLetters[i], 'letter', p.lx, p.ly - 28);
});
</script>
</body>
</html>
